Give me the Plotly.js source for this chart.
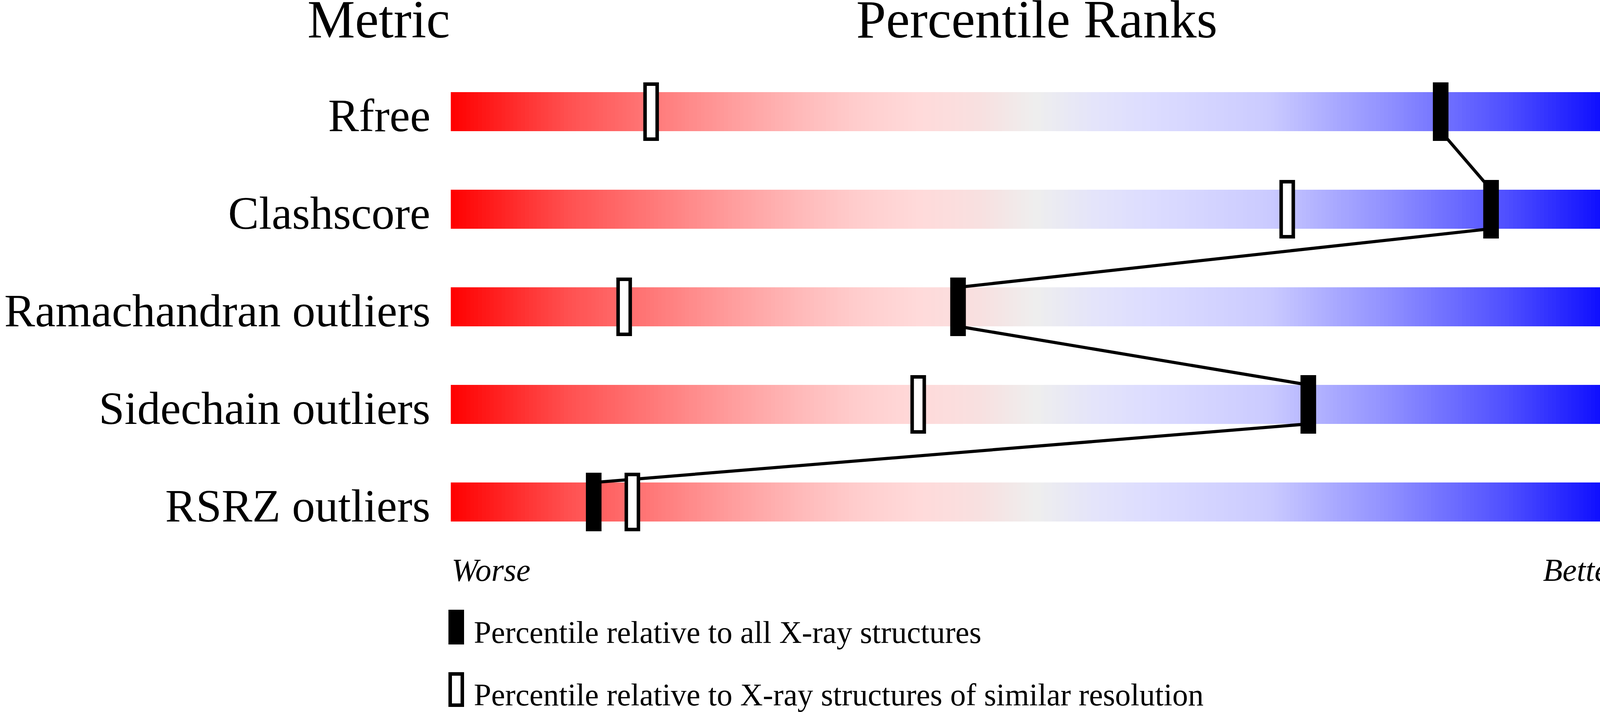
<!DOCTYPE html>
<html>
<head>
<meta charset="utf-8">
<script src="https://cdn.plot.ly/plotly-3.0.1.min.js"></script>
<style>
  html, body { margin: 0; padding: 0; background: #fff; }
  #chart { width: 4506px; height: 1824px; }
</style>
</head>
<body>
<div id="chart"></div>
<script>
// validation sliders: percentile of each metric
var metrics = ['Rfree', 'Clashscore', 'Ramachandran outliers', 'Sidechain outliers', 'RSRZ outliers'];
var values = ['0.204', '2', '0.2%', '0.8%', '10.1%'];
var pct_all = [84.5, 88.8, 43.3, 73.2, 12.2];
var pct_similar = [17.1, 71.4, 14.8, 39.9, 15.5];

var legend_labels = [
    'Percentile relative to all X-ray structures',
    'Percentile relative to X-ray structures of similar resolution'
];

var serif = 'Liberation Serif, Times New Roman, serif';

var slider_colors = [
    [0.00, '#ff0000'],
    [0.10, '#ff5050'],
    [0.20, '#ff8888'],
    [0.25, '#ffa2a2'],
    [0.30, '#ffbaba'],
    [0.35, '#ffcece'],
    [0.40, '#ffdada'],
    [0.45, '#f8e0e0'],
    [0.50, '#eeeeee'],
    [0.55, '#e4e4fa'],
    [0.60, '#dcdcff'],
    [0.70, '#cacaff'],
    [0.75, '#acacff'],
    [0.80, '#9090ff'],
    [0.85, '#7070ff'],
    [0.90, '#5050ff'],
    [0.95, '#2828ff'],
    [1.00, '#0000ff']
];

// gradient bars: one heatmap row per metric
var n_cells = 300;
var grad_x = [];
for (var k = 0; k < n_cells; k++) grad_x.push((k + 0.5) * 100 / n_cells);
var rows = metrics.map(function(m, i) { return i; });
var grad_z = rows.map(function() { return grad_x.slice(); });

var bars = {
    type: 'heatmap',
    x: grad_x,
    y: rows,
    z: grad_z,
    zmin: 0,
    zmax: 100,
    colorscale: slider_colors,
    showscale: false,
    ygap: 150,
    hoverinfo: 'skip'
};

// line joining the "all structures" markers
var line_x = [], line_y = [];
pct_all.forEach(function(p, i) {
    line_x.push(p, p);
    line_y.push(i - 0.2, i + 0.2);
});
var joiner = {
    type: 'scatter',
    mode: 'lines',
    x: line_x,
    y: line_y,
    line: {color: '#000', width: 8},
    hoverinfo: 'skip',
    showlegend: false
};

var shapes = [];
pct_similar.forEach(function(p, i) {
    shapes.push({
        type: 'rect', layer: 'above',
        xref: 'x', yref: 'y',
        xsizemode: 'pixel', ysizemode: 'pixel',
        xanchor: p, yanchor: i,
        x0: -15.5, x1: 15.5, y0: -70.5, y1: 70.5,
        fillcolor: '#fff',
        line: {color: '#000', width: 9}
    });
});
pct_all.forEach(function(p, i) {
    shapes.push({
        type: 'rect', layer: 'above',
        xref: 'x', yref: 'y',
        xsizemode: 'pixel', ysizemode: 'pixel',
        xanchor: p, yanchor: i,
        x0: -20, x1: 20, y0: -75, y1: 75,
        fillcolor: '#000',
        line: {width: 0}
    });
});

// legend keys
shapes.push({
    type: 'rect', xref: 'paper', yref: 'paper',
    xsizemode: 'pixel', ysizemode: 'pixel',
    xanchor: 0, yanchor: 0,
    x0: -6, x1: 34, y0: -240, y1: -151,
    fillcolor: '#000', line: {width: 0}
});
shapes.push({
    type: 'rect', xref: 'paper', yref: 'paper',
    xsizemode: 'pixel', ysizemode: 'pixel',
    xanchor: 0, yanchor: 0,
    x0: -1.5, x1: 29.5, y0: -395.5, y1: -315.5,
    fillcolor: '#fff', line: {color: '#000', width: 9}
});

var annotations = [];
function note(text, props) {
    var a = {text: text, showarrow: false, font: {family: serif, size: 118, color: '#000'}};
    for (var key in props) a[key] = props[key];
    annotations.push(a);
}

note('Metric', {xref: 'paper', yref: 'paper', x: 0, y: 1, xanchor: 'right', yanchor: 'middle',
    yshift: 111, font: {family: serif, size: 137, color: '#000'}});
note('Percentile Ranks', {xref: 'paper', yref: 'paper', x: 0.5, y: 1, xanchor: 'center', yanchor: 'middle',
    yshift: 111, font: {family: serif, size: 137, color: '#000'}});
note('Value', {xref: 'paper', yref: 'paper', x: 1, y: 1, xanchor: 'left', yanchor: 'middle',
    yshift: 111, font: {family: serif, size: 137, color: '#000'}});

metrics.forEach(function(m, i) {
    note(m, {xref: 'paper', yref: 'y', x: 0, y: i, xanchor: 'right', yanchor: 'middle',
        xshift: -50, yshift: -10});
    note(values[i], {xref: 'paper', yref: 'y', x: 1, y: i, xanchor: 'left', yanchor: 'middle',
        xshift: 46, yshift: -10});
});

note('<i>Worse</i>', {xref: 'paper', yref: 'paper', x: 0, y: 0, xanchor: 'left', yanchor: 'middle',
    yshift: -49, font: {family: serif, size: 82, color: '#000'}});
note('<i>Better</i>', {xref: 'paper', yref: 'paper', x: 1, y: 0, xanchor: 'right', yanchor: 'middle',
    yshift: -49, font: {family: serif, size: 82, color: '#000'}});

note(legend_labels[0], {xref: 'paper', yref: 'paper', x: 0, y: 0, xanchor: 'left', yanchor: 'middle',
    xshift: 57, yshift: -209, font: {family: serif, size: 80, color: '#000'}});
note(legend_labels[1], {xref: 'paper', yref: 'paper', x: 0, y: 0, xanchor: 'left', yanchor: 'middle',
    xshift: 57, yshift: -369, font: {family: serif, size: 80, color: '#000'}});

var layout = {
    width: 4506,
    height: 1824,
    margin: {l: 1154, r: 353, t: 161, b: 413, pad: 0},
    paper_bgcolor: '#fff',
    plot_bgcolor: '#fff',
    showlegend: false,
    xaxis: {range: [0, 100], visible: false, fixedrange: true},
    yaxis: {range: [4.5, -0.5], visible: false, fixedrange: true},
    shapes: shapes,
    annotations: annotations
};

Plotly.newPlot('chart', [bars, joiner], layout, {displayModeBar: false, staticPlot: true});
</script>
</body>
</html>
